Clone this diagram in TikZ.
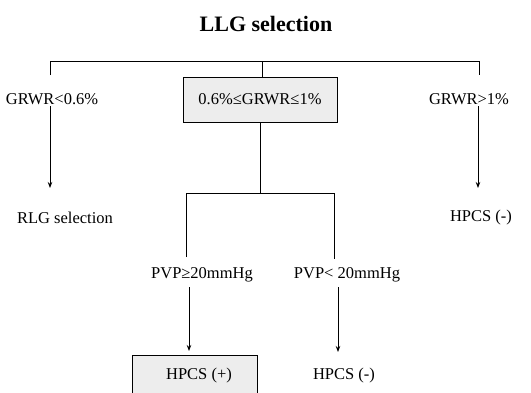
\documentclass[tikz,border=0pt]{standalone}
\usepackage{fontspec}
\setmainfont{Liberation Serif}
\usetikzlibrary{arrows.meta}
\begin{document}
\begin{tikzpicture}[x=1pt,y=-1pt,
  lbl/.style={inner sep=0pt,font=\fontsize{16.5}{18}\selectfont},
  hbox/.style={draw,line width=1pt,fill=gray!14,inner sep=0pt},
  ln/.style={line width=0.9pt},
  arr/.style={line width=0.9pt,-{Stealth[length=6pt,width=4.5pt]}}]
\useasboundingbox (0,0) rectangle (531,392);
\node[inner sep=0pt,font=\fontsize{22}{24}\selectfont\bfseries] (title) at (266,24) {LLG selection};
% top bracket
\coordinate (tl) at (50,61);
\coordinate (tc) at (262,61);
\coordinate (tr) at (479,61);
\coordinate (tlb) at (50,75);
\coordinate (trb) at (479,75);
\draw[ln] (tlb) -- (tl) -- (tr) -- (trb);
% first level
\node[lbl] (g1) at (52,99) {GRWR<0.6\%};
\node[hbox,minimum width=154pt,minimum height=45pt] (g2) at (260,99.5) {\fontsize{16.5}{18}\selectfont 0.6\%≤GRWR≤1\%};
\node[lbl] (g3) at (469,99) {GRWR>1\%};
\draw[ln] (tc) -- (tc |- g2.north);
% results of first level
\node[lbl] (rlg) at (65,218) {RLG selection};
\node[lbl] (h1) at (481,218) {HPCS (-)};
\coordinate (a1s) at (50,106);
\coordinate (a1e) at (50,188);
\coordinate (a3s) at (478,106);
\coordinate (a3e) at (478,188);
\draw[arr] (a1s) -- (a1e);
\draw[arr] (a3s) -- (a3e);
% second bracket
\coordinate (jc) at (g2.south |- 0,193);
\coordinate (jl) at (186,193);
\coordinate (jr) at (334,193);
\coordinate (jlb) at (186,257);
\coordinate (jrb) at (334,259);
\draw[ln] (g2.south) -- (jc);
\draw[ln] (jlb) -- (jl) -- (jr) -- (jrb);
% second level
\node[lbl] (p1) at (202,275) {PVP≥20mmHg};
\node[lbl] (p2) at (347,275) {PVP< 20mmHg};
\coordinate (b1s) at (189,287);
\coordinate (b1e) at (189,351);
\coordinate (b2s) at (338,287);
\coordinate (b2e) at (338,352);
\draw[arr] (b1s) -- (b1e);
\draw[arr] (b2s) -- (b2e);
% bottom results
\node[hbox,minimum width=125pt,minimum height=40pt] (hp) at (194.5,375.5) {};
\node[lbl] (hpt) at (199,376) {HPCS (+)};
\node[lbl] (hm) at (344,376) {HPCS (-)};
\end{tikzpicture}
\end{document}
